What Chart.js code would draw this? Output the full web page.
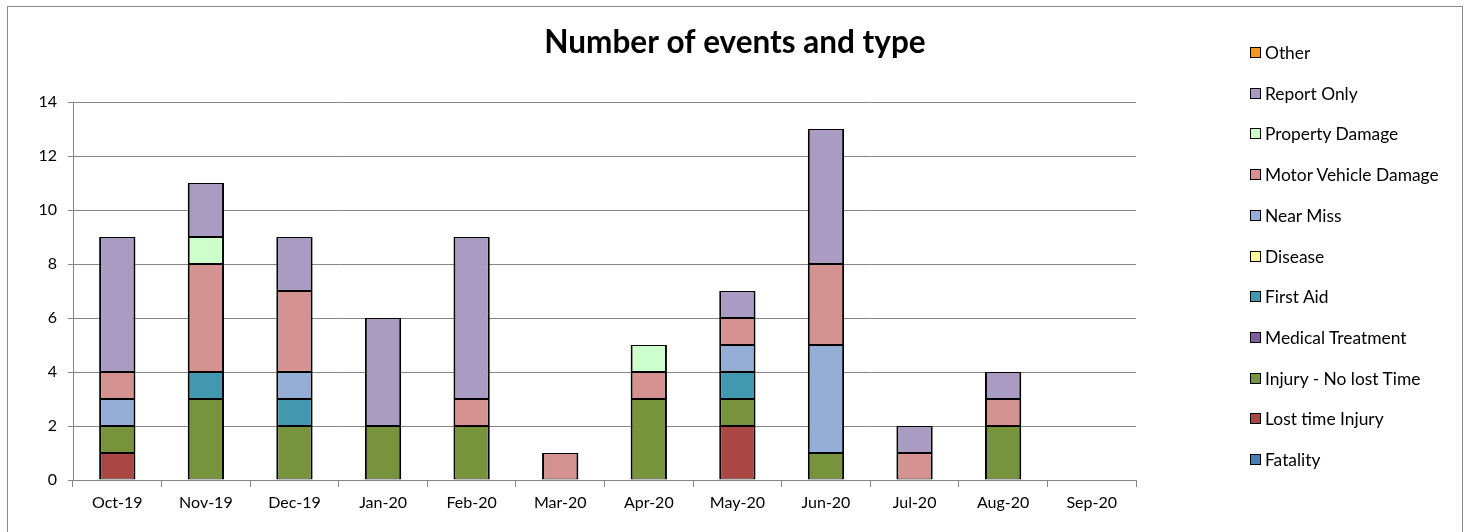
<!DOCTYPE html>
<html>
<head>
<meta charset="utf-8">
<script src="https://cdn.jsdelivr.net/npm/chart.js@4/dist/chart.umd.min.js"></script>
<style>
  html, body { margin: 0; padding: 0; background: #fff; }
  #wrap { position: relative; width: 1470px; height: 532px; overflow: hidden; }
  #frame { position: absolute; left: 7px; top: 6px; width: 1456px; height: 560px; border: 1px solid #8a8a8a; box-sizing: border-box; pointer-events: none; }
  #c { position: absolute; left: 0; top: 0; }
  #legend { position: absolute; left: 1250px; top: 0; font-family: Lato, "Liberation Sans", sans-serif; font-size: 17.4px; color: #000; }
  .li { position: absolute; left: 0; white-space: nowrap; height: 20px; line-height: 20px; }
  .sw { position: absolute; left: 0; top: 4px; width: 9px; height: 9px; border: 1px solid #000; }
  .lt { position: absolute; left: 15px; top: 0; }
</style>
</head>
<body>
<div id="wrap">
  <canvas id="c" width="1470" height="532"></canvas>
  <div id="frame"></div>
  <div id="legend"></div>
</div>
<script>
const categories = ["Oct-19","Nov-19","Dec-19","Jan-20","Feb-20","Mar-20","Apr-20","May-20","Jun-20","Jul-20","Aug-20","Sep-20"];
const fatality          = [0,0,0,0,0,0,0,0,0,0,0,0];
const lostTimeInjury    = [1,0,0,0,0,0,0,2,0,0,0,0];
const injuryNoLostTime  = [1,3,2,2,2,0,3,1,1,0,2,0];
const medicalTreatment  = [0,0,0,0,0,0,0,0,0,0,0,0];
const firstAid          = [0,1,1,0,0,0,0,1,0,0,0,0];
const disease           = [0,0,0,0,0,0,0,0,0,0,0,0];
const nearMiss          = [1,0,1,0,0,0,0,1,4,0,0,0];
const motorVehicleDamage= [1,4,3,0,1,1,1,1,3,1,1,0];
const propertyDamage    = [0,1,0,0,0,0,1,0,0,0,0,0];
const reportOnly        = [5,2,2,4,6,0,0,1,5,1,1,0];
const other             = [0,0,0,0,0,0,0,0,0,0,0,0];
const yTicks = [0,2,4,6,8,10,12,14];

const seriesNames = ["Fatality","Lost time Injury","Injury - No lost Time","Medical Treatment","First Aid","Disease","Near Miss","Motor Vehicle Damage","Property Damage","Report Only","Other"];
const seriesData = [fatality,lostTimeInjury,injuryNoLostTime,medicalTreatment,firstAid,disease,nearMiss,motorVehicleDamage,propertyDamage,reportOnly,other];
const seriesColors = ["#4A7EBB","#AA4643","#77933C","#7D5FA0","#4198AF","#FFFF99","#95AED5","#D49391","#CCFFCC","#A99BC1","#F5971C"];

const datasets = seriesNames.map((n,i)=>({
  label: n,
  data: seriesData[i].map(v => v === 0 ? null : v),
  backgroundColor: seriesColors[i],
  borderColor: "#000",
  borderWidth: { top: 1, bottom: 1, left: 2, right: 2 },
  borderSkipped: false,
  barPercentage: 0.41,
  categoryPercentage: 1.0
}));

const FONT = 'Lato, "Liberation Sans", sans-serif';

const rightSpacer = {
  id: 'rightSpacer',
  beforeInit(chart) {
    const box = {
      position: 'right', weight: 100, fullSize: false, options: {},
      left: 0, top: 0, right: 0, bottom: 0, width: 0, height: 0,
      isHorizontal() { return false; },
      update(maxWidth, maxHeight) { this.width = 334; this.height = maxHeight; },
      getPadding() { return {left:0,right:0,top:0,bottom:0}; },
      draw() {}
    };
    Chart.layouts.addBox(chart, box);
  }
};

new Chart(document.getElementById('c'), {
  type: 'bar',
  data: { labels: categories, datasets },
  plugins: [rightSpacer],
  options: {
    responsive: false,
    animation: false,
    layout: { padding: 0 },
    plugins: {
      legend: { display: false },
      tooltip: { enabled: false },
      title: {
        display: true,
        text: "Number of events and type",
        color: "#000",
        font: { family: FONT, size: 31.5, weight: 'bold', lineHeight: 1.2 },
        padding: { top: 24, bottom: 40.2 }
      }
    },
    scales: {
      x: {
        stacked: true,
        grid: { display: true, drawOnChartArea: false, drawTicks: true, tickLength: 7, color: "#868686", offset: true },
        border: { display: true, color: "#868686", width: 1 },
        ticks: { color: "#000", font: { family: FONT, size: 16 }, padding: 6, maxRotation: 0, autoSkip: false },
        afterFit(s) { s.height = 52; }
      },
      y: {
        stacked: true,
        min: 0, max: 14,
        afterBuildTicks(s) { s.ticks = yTicks.map(v => ({ value: v })); },
        grid: { color: "#868686", tickLength: 5, drawTicks: true },
        border: { display: true, color: "#868686", width: 1 },
        ticks: { color: "#000", font: { family: FONT, size: 16 }, padding: 11 },
        afterFit(s) { s.width = 73; }
      }
    }
  }
});

// HTML legend, top to bottom in reverse series order
const legendEl = document.getElementById('legend');
const legendTop = 53, legendStep = 40.7;
seriesNames.slice().reverse().forEach((n, k) => {
  const i = seriesNames.length - 1 - k;
  const d = document.createElement('div');
  d.className = 'li';
  d.style.top = (legendTop + k * legendStep - 10) + 'px';
  const sw = document.createElement('div');
  sw.className = 'sw';
  sw.style.background = seriesColors[i];
  const t = document.createElement('span');
  t.className = 'lt';
  t.textContent = n;
  d.appendChild(sw); d.appendChild(t);
  legendEl.appendChild(d);
});
</script>
</body>
</html>
